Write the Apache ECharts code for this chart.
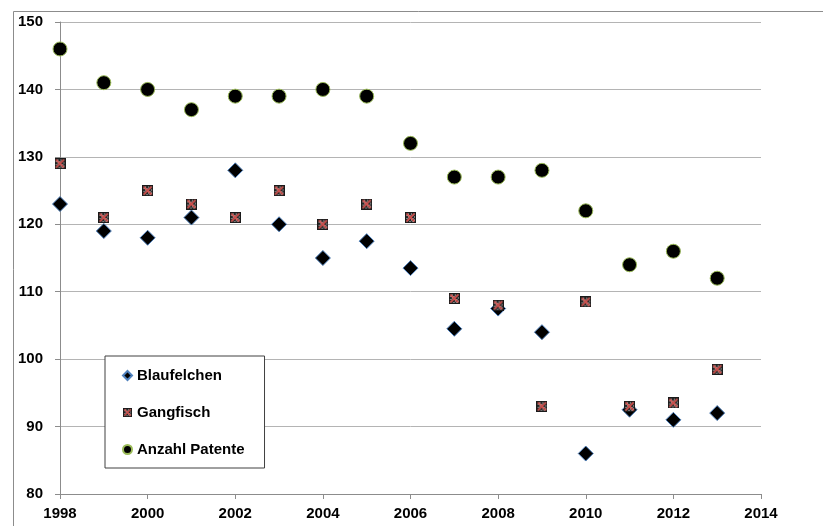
<!DOCTYPE html>
<html>
<head>
<meta charset="utf-8">
<script src="https://cdn.jsdelivr.net/npm/echarts@6/dist/echarts.min.js"></script>
<style>
  html, body { margin: 0; padding: 0; background: #fff; }
  #chart { width: 823px; height: 526px; }
</style>
</head>
<body>
<div id="chart"></div>
<script>
// Jahre und Fangzahlen
const years = [1998, 1999, 2000, 2001, 2002, 2003, 2004, 2005, 2006, 2007, 2008, 2009, 2010, 2011, 2012, 2013];
const blaufelchen = [123, 119, 118, 121, 128, 120, 115, 117.5, 113.5, 104.5, 107.5, 104, 86, 92.5, 91, 92];
const gangfisch = [129, 121, 125, 123, 121, 125, 120, 123, 121, 109, 108, 93, 108.5, 93, 93.5, 98.5];
const patente = [146, 141, 140, 137, 139, 139, 140, 139, 132, 127, 127, 128, 122, 114, 116, 112];

const FONT = '"Liberation Sans", Arial, sans-serif';

// Square marker: dark frame, speckled interior and a red cross
function gangfischSymbol() {
  const s = 22;
  const c = document.createElement('canvas');
  c.width = s; c.height = s;
  const g = c.getContext('2d');
  g.fillStyle = '#262626';
  g.fillRect(0, 0, s, s);
  for (let y = 3; y < s - 3; y += 3) {
    for (let x = 3; x < s - 3; x += 3) {
      if (((x + y) / 3) % 2) {
        g.fillStyle = '#d8d8d8';
        g.fillRect(x, y, 2, 2);
      }
    }
  }
  g.strokeStyle = '#d0504d';
  g.lineWidth = 3.5;
  g.beginPath();
  g.moveTo(3, 3); g.lineTo(s - 3, s - 3);
  g.moveTo(s - 3, 3); g.lineTo(3, s - 3);
  g.stroke();
  g.strokeStyle = '#1a1a1a';
  g.lineWidth = 2;
  g.strokeRect(1, 1, s - 2, s - 2);
  return 'image://' + c.toDataURL();
}

const pairs = (ys) => years.map((x, i) => [x, ys[i]]);

const chart = echarts.init(document.getElementById('chart'), null, { renderer: 'canvas' });
chart.setOption({
  animation: false,
  backgroundColor: '#fff',
  textStyle: { fontFamily: FONT },
  graphic: [{
    type: 'rect',
    silent: true,
    shape: { x: 13.5, y: 11.5, width: 900, height: 600 },
    style: { fill: 'none', stroke: '#8c8c8c', lineWidth: 1 },
    z: -1
  }],
  grid: { left: 60, right: 62, top: 22, bottom: 32 },
  xAxis: {
    type: 'value',
    min: 1998, max: 2014, interval: 2,
    axisLine: { lineStyle: { color: '#8c8c8c' } },
    axisTick: { show: true, length: 5, lineStyle: { color: '#8c8c8c' } },
    splitLine: { show: false },
    axisLabel: {
      color: '#000', fontSize: 15, fontWeight: 'bold', fontFamily: FONT, margin: 12,
      formatter: (v) => String(v)
    }
  },
  yAxis: {
    type: 'value',
    min: 80, max: 150, interval: 10,
    axisLine: { show: true, lineStyle: { color: '#8c8c8c' } },
    axisTick: { show: true, length: 5, lineStyle: { color: '#8c8c8c' } },
    splitLine: { show: true, lineStyle: { color: '#b4b4b4', width: 1 } },
    axisLabel: { color: '#000', fontSize: 15, fontWeight: 'bold', fontFamily: FONT, margin: 17 }
  },
  legend: {
    orient: 'vertical',
    left: 105, top: 356,
    padding: [12, 20, 11, 17],
    itemGap: 22,
    itemWidth: 9, itemHeight: 9,
    backgroundColor: '#fff',
    borderColor: '#404040', borderWidth: 1,
    textStyle: { color: '#000', fontSize: 15, fontWeight: 'bold', fontFamily: FONT, lineHeight: 15 },
    data: ['Blaufelchen', 'Gangfisch', 'Anzahl Patente']
  },
  series: [
    {
      name: 'Blaufelchen', type: 'scatter',
      symbol: 'diamond', symbolSize: 15,
      itemStyle: { color: '#000', borderColor: '#4f81bd', borderWidth: 1, opacity: 1 },
      data: pairs(blaufelchen), z: 2
    },
    {
      name: 'Gangfisch', type: 'scatter',
      symbol: gangfischSymbol(), symbolSize: 11,
      itemStyle: { color: '#262626', opacity: 1 },
      data: pairs(gangfisch), z: 3
    },
    {
      name: 'Anzahl Patente', type: 'scatter',
      symbol: 'circle', symbolSize: 14,
      itemStyle: { color: '#000', borderColor: '#9bbb59', borderWidth: 1, opacity: 1 },
      data: pairs(patente), z: 4
    }
  ]
});
</script>
</body>
</html>
